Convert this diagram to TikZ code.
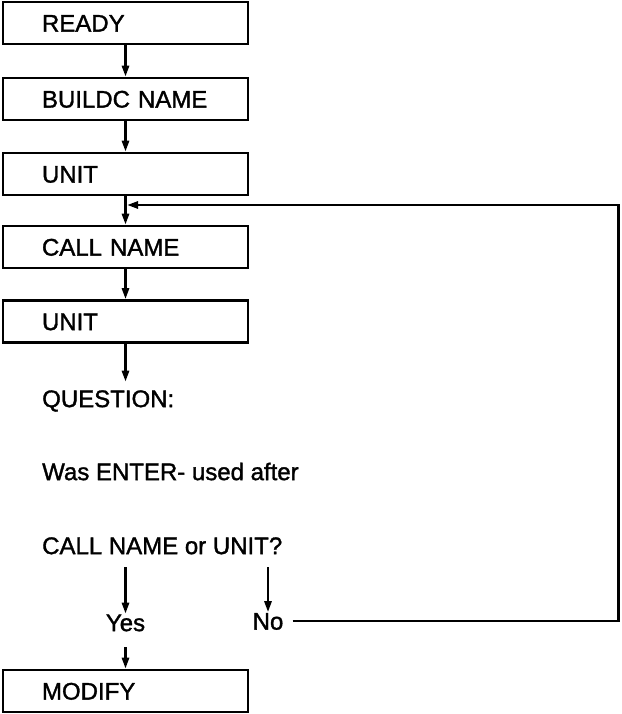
\documentclass[tikz,border=0pt]{standalone}
\usepackage{fontspec}
\setmainfont{Liberation Sans}[FakeBold=1.4]
\usetikzlibrary{arrows.meta,calc}
\begin{document}
\begin{tikzpicture}[x=1pt,y=-1pt,
  every node/.style={font=\fontsize{24pt}{28pt}\selectfont, text height=17.2pt, text depth=0pt, inner sep=0pt},
  box/.style={draw, line width=2.6pt, minimum width=245pt, minimum height=42pt, text width=167pt, align=left},
  txt/.style={anchor=west},
  conn/.style={line width=2.6pt},
  arr/.style={conn, -{Triangle[length=11pt,width=7pt]}}]
\useasboundingbox (0,0) rectangle (621,714);
\node[box] (ready) at (125.5,23) {READY};
\node[box] (build) at (125.5,99) {\mbox{BUILDC NAME}};
\node[box] (unit1) at (125.5,174) {UNIT};
\node[box] (call) at (125.5,247) {CALL NAME};
\node[box] (unit2) at (125.5,321.5) {UNIT};
\node[txt] (q1) at (42,398.5) {QUESTION:};
\node[txt] (q2) at (42,471.5) {Was ENTER- used after};
\node[txt] (q3) at (42,545.5) {CALL NAME or UNIT?};
\node (yes) at (125.5,622.5) {Yes};
\node (no) at (268,621) {No};
\node[box] (modify) at (125.5,691) {MODIFY};
\coordinate (corner) at (618.5,205);
\draw[arr] (ready) -- (build);
\draw[arr] (build) -- (unit1);
\draw[arr] (unit1) -- (call);
\draw[arr] (call) -- (unit2);
\draw[arr, shorten >=8pt] (unit2) -- (unit2 |- q1.north);
\draw[arr, shorten <=13pt] (q3.south -| yes) -- (yes);
\draw[arr, shorten <=13pt] (q3.south -| no) -- (no);
\draw[arr, shorten <=16pt] (yes) -- (modify);
\draw[arr, shorten <=9pt, shorten >=1.5pt] (no.east) -- (no.east -| corner) -- (corner) -- (corner -| unit1.south);
\end{tikzpicture}
\end{document}
